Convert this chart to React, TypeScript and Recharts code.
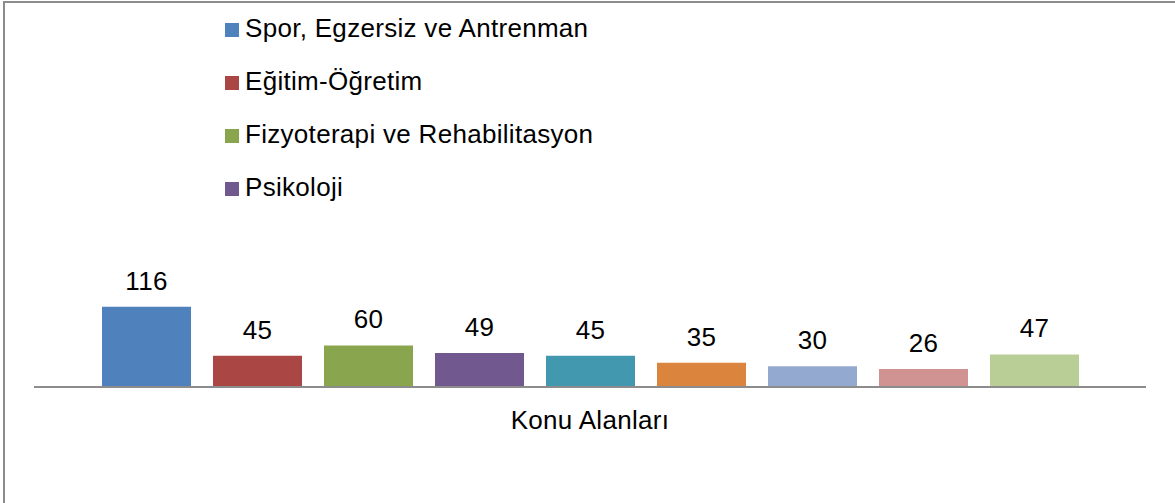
import React from "react";
import { BarChart, Bar, XAxis, YAxis, Legend, LabelList } from "recharts";

const category = "Konu Alanları";
const seriesNames = [
  "Spor, Egzersiz ve Antrenman",
  "Eğitim-Öğretim",
  "Fizyoterapi ve Rehabilitasyon",
  "Psikoloji",
  "Sağlık",
  "Beslenme",
  "Yönetim ve Organizasyon",
  "Sosyoloji",
  "Diğer",
];
const seriesValues = [116, 45, 60, 49, 45, 35, 30, 26, 47];
const seriesColors = [
  "#4F81BD",
  "#AA4644",
  "#89A54E",
  "#71588F",
  "#4298AF",
  "#DB843D",
  "#93A9CF",
  "#D19392",
  "#B9CD96",
];

const row: Record<string, string | number> = { category };
seriesValues.forEach((v, i) => {
  row[`s${i}`] = v;
});
const data = [row];

const FONT = "'Liberation Sans', Arial, sans-serif";
const FS = 26;
const LS = 0.3;

const LegendContent = (props: any) => {
  const items = [...(props.payload || [])]
    .sort((a: any, b: any) => seriesNames.indexOf(a.value) - seriesNames.indexOf(b.value))
    .slice(0, 4);
  return (
    <div style={{ position: "relative", width: 420, height: 220 }}>
      {items.map((it: any, i: number) => (
        <div key={i} style={{ position: "absolute", left: 0, top: i * 53.33, height: 53, width: 420 }}>
          <div
            style={{
              position: "absolute",
              left: 0,
              top: 22.5,
              width: 14,
              height: 14,
              background: it.color,
            }}
          />
          <span
            style={{
              position: "absolute",
              left: 20,
              top: 14.5,
              fontFamily: FONT,
              fontSize: FS,
              lineHeight: "26px",
              letterSpacing: LS,
              color: "#000",
              whiteSpace: "nowrap",
            }}
          >
            {it.value}
          </span>
        </div>
      ))}
    </div>
  );
};

export default function App() {
  return (
    <div
      style={{
        position: "absolute",
        left: 0,
        top: 0,
        width: 1175,
        height: 503,
        background: "#fff",
        overflow: "hidden",
      }}
    >
      <div
        style={{
          position: "absolute",
          left: 3,
          top: 1,
          width: 1200,
          height: 600,
          borderLeft: "2px solid #8c8c8c",
          borderTop: "2px solid #8c8c8c",
        }}
      />
      <div style={{ position: "absolute", left: 0, top: 0 }}>
        <BarChart
          width={1175}
          height={503}
          data={data}
          margin={{ top: 290, right: 29, bottom: 86, left: 34 }}
          barSize={89}
          barGap={22}
        >
          <XAxis
            dataKey="category"
            height={30}
            axisLine={{ stroke: "#8c8c8c", strokeWidth: 2 }}
            tickLine={false}
            tickMargin={18}
            tick={{ fill: "#000", fontSize: FS, fontFamily: FONT, letterSpacing: LS }}
          />
          <YAxis hide domain={[0, 140]} />
          <Legend
            layout="horizontal"
            verticalAlign="middle"
            align="center"
            itemSorter={null as any}
            wrapperStyle={{ top: 0, left: 225, width: 420 }}
            content={<LegendContent />}
          />
          {seriesNames.map((name, i) => (
            <Bar
              key={name}
              dataKey={`s${i}`}
              name={name}
              fill={seriesColors[i]}
              isAnimationActive={false}
            >
              <LabelList
                dataKey={`s${i}`}
                position="top"
                offset={17}
                fill="#000"
                fontSize={FS}
                fontFamily={FONT}
                letterSpacing={LS}
              />
            </Bar>
          ))}
        </BarChart>
      </div>
    </div>
  );
}
